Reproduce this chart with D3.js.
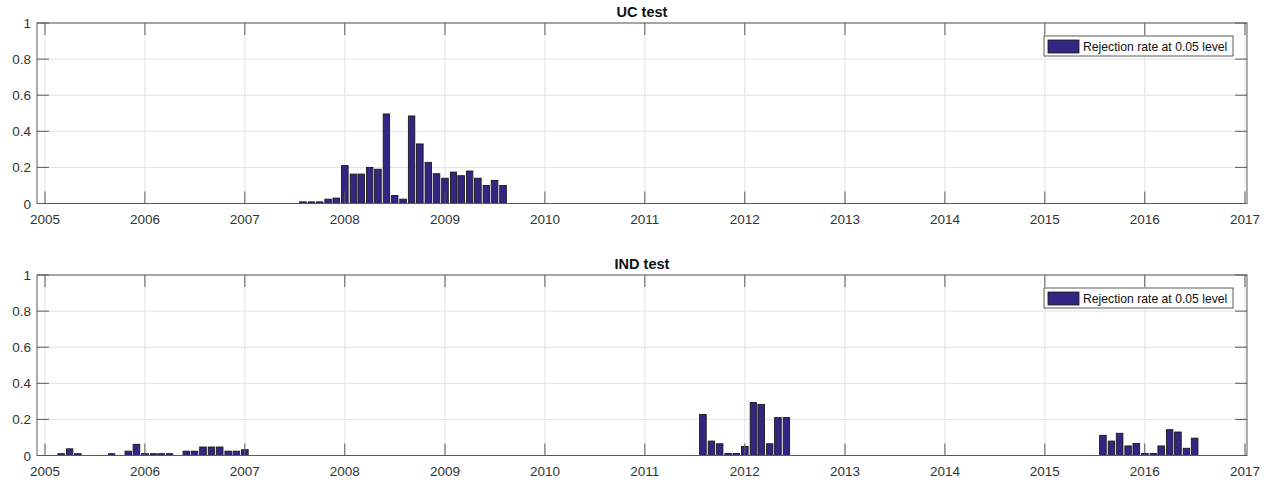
<!DOCTYPE html>
<html>
<head>
<meta charset="utf-8">
<script src="https://cdn.jsdelivr.net/npm/d3@7"></script>
<style>
  body { margin: 0; background: #fff; }
  svg { display: block; font-family: "Liberation Sans", Arial, sans-serif; }
</style>
</head>
<body>
<svg id="chart" width="1273" height="485"></svg>
<script>
// monthly rejection rates, only the months with a visible bar
const ucMonths = ['2007-08', '2007-09', '2007-10', '2007-11', '2007-12',
  '2008-01', '2008-02', '2008-03', '2008-04', '2008-05', '2008-06', '2008-07',
  '2008-08', '2008-09', '2008-10', '2008-11', '2008-12',
  '2009-01', '2009-02', '2009-03', '2009-04', '2009-05', '2009-06', '2009-07', '2009-08']
const ucValues = [0.009, 0.009, 0.009, 0.024, 0.03,
  0.21, 0.163, 0.163, 0.2, 0.19, 0.496, 0.044,
  0.024, 0.485, 0.33, 0.228, 0.165,
  0.14, 0.174, 0.154, 0.18, 0.14, 0.1, 0.128, 0.1]

const indMonths = ['2005-03', '2005-04', '2005-05', '2005-09', '2005-11', '2005-12',
  '2006-01', '2006-02', '2006-03', '2006-04', '2006-06', '2006-07', '2006-08',
  '2006-09', '2006-10', '2006-11', '2006-12', '2007-01',
  '2011-08', '2011-09', '2011-10', '2011-11', '2011-12',
  '2012-01', '2012-02', '2012-03', '2012-04', '2012-05', '2012-06',
  '2015-08', '2015-09', '2015-10', '2015-11', '2015-12',
  '2016-01', '2016-02', '2016-03', '2016-04', '2016-05', '2016-06', '2016-07']
const indValues = [0.01, 0.037, 0.01, 0.01, 0.024, 0.062,
  0.01, 0.01, 0.01, 0.01, 0.024, 0.024, 0.047,
  0.047, 0.047, 0.024, 0.024, 0.032,
  0.227, 0.08, 0.065, 0.011, 0.011,
  0.05, 0.294, 0.283, 0.065, 0.21, 0.21,
  0.112, 0.08, 0.123, 0.053, 0.067,
  0.011, 0.011, 0.053, 0.143, 0.13, 0.04, 0.096]

const yearTicks = [2005, 2006, 2007, 2008, 2009, 2010, 2011, 2012, 2013, 2014, 2015, 2016, 2017]
const yTicks = [0, 0.2, 0.4, 0.6, 0.8, 1]
const legendLabel = 'Rejection rate at 0.05 level'

const panels = [
  { title: 'UC test', months: ucMonths, values: ucValues, top: 23, bottom: 203.5 },
  { title: 'IND test', months: indMonths, values: indValues, top: 275, bottom: 455.5 }
]

const svg = d3.select('#chart')
const parseMonth = d3.timeParse('%Y-%m')
const left = 37
const right = 1247
const tickLen = 12
const barColor = '#312783'
const axisColor = '#5a5a5a'
const textColor = '#333'

// 2005 tick sits at 45px, 2017 at 1245px
const x = d3.scaleTime()
  .domain([new Date(2005, 0, 1), new Date(2017, 0, 1)])
  .range([45, 1245])

panels.forEach(p => {
  const y = d3.scaleLinear().domain([0, 1]).range([p.bottom, p.top])
  const g = svg.append('g')

  // grid
  g.selectAll('.vgrid')
    .data(yearTicks)
    .enter().append('line')
    .attr('x1', d => x(new Date(d, 0, 1)))
    .attr('x2', d => x(new Date(d, 0, 1)))
    .attr('y1', p.top)
    .attr('y2', p.bottom)
    .style('stroke', '#e3e3e3')
    .style('stroke-width', 1)

  g.selectAll('.hgrid')
    .data(yTicks)
    .enter().append('line')
    .attr('x1', left)
    .attr('x2', right)
    .attr('y1', d => y(d))
    .attr('y2', d => y(d))
    .style('stroke', '#e3e3e3')
    .style('stroke-width', 1)

  // bars
  const bars = p.months.map((m, i) => ({ date: parseMonth(m), value: p.values[i] }))
  g.selectAll('.bar')
    .data(bars)
    .enter().append('rect')
    .attr('class', 'bar')
    .attr('x', d => {
      const w = (x(d3.timeMonth.offset(d.date, 1)) - x(d.date)) * 0.78
      return x(d.date) - w / 2
    })
    .attr('width', d => (x(d3.timeMonth.offset(d.date, 1)) - x(d.date)) * 0.78)
    .attr('y', d => y(d.value))
    .attr('height', d => y(0) - y(d.value))
    .style('fill', barColor)
    .style('stroke', '#1a1a1a')
    .style('stroke-width', 0.9)

  // box
  g.append('rect')
    .attr('x', left)
    .attr('y', p.top)
    .attr('width', right - left)
    .attr('height', p.bottom - p.top)
    .style('fill', 'none')
    .style('stroke', axisColor)
    .style('stroke-width', 1)

  // inward ticks on all four sides
  yearTicks.forEach(t => {
    const xx = x(new Date(t, 0, 1))
    g.append('line').attr('x1', xx).attr('x2', xx).attr('y1', p.bottom).attr('y2', p.bottom - tickLen)
      .style('stroke', axisColor)
    g.append('line').attr('x1', xx).attr('x2', xx).attr('y1', p.top).attr('y2', p.top + tickLen)
      .style('stroke', axisColor)
  })
  yTicks.forEach(t => {
    g.append('line').attr('x1', left).attr('x2', left + tickLen).attr('y1', y(t)).attr('y2', y(t))
      .style('stroke', axisColor)
    g.append('line').attr('x1', right).attr('x2', right - tickLen).attr('y1', y(t)).attr('y2', y(t))
      .style('stroke', axisColor)
  })

  // tick labels
  g.selectAll('.xlabel')
    .data(yearTicks)
    .enter().append('text')
    .attr('x', d => x(new Date(d, 0, 1)))
    .attr('y', p.bottom + 20.5)
    .style('text-anchor', 'middle')
    .style('font-size', '13.5px')
    .style('fill', textColor)
    .text(d => d)

  g.selectAll('.ylabel')
    .data(yTicks)
    .enter().append('text')
    .attr('x', 31)
    .attr('y', d => y(d) + 5)
    .style('text-anchor', 'end')
    .style('font-size', '13.5px')
    .style('fill', textColor)
    .text(d => d)

  // title
  g.append('text')
    .attr('x', (left + right) / 2)
    .attr('y', p.top - 6.5)
    .style('text-anchor', 'middle')
    .style('font-size', '14.5px')
    .style('font-weight', 'bold')
    .style('fill', '#111')
    .text(p.title)

  // legend
  const lg = g.append('g').attr('transform', `translate(1044, ${p.top + 13})`)
  lg.append('rect')
    .attr('width', 189).attr('height', 20)
    .style('fill', '#fff')
    .style('stroke', '#333')
    .style('stroke-width', 0.8)
  lg.append('rect')
    .attr('x', 4).attr('y', 4).attr('width', 31).attr('height', 13)
    .style('fill', barColor)
    .style('stroke', '#1a1a1a')
    .style('stroke-width', 0.8)
  lg.append('text')
    .attr('x', 39).attr('y', 14.5)
    .style('font-size', '12.2px')
    .style('fill', '#111')
    .text(legendLabel)
})
</script>
</body>
</html>
